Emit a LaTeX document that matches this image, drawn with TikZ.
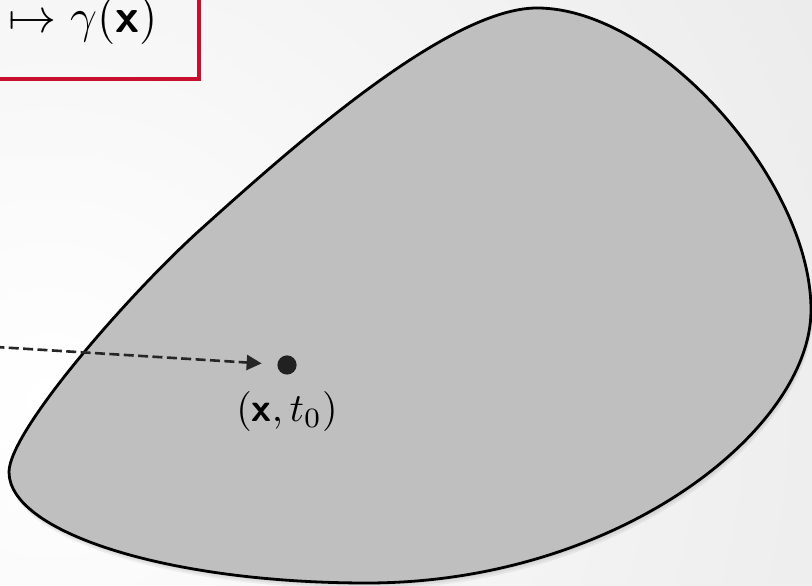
\documentclass[tikz,border=0pt]{standalone}
\usepackage{amsmath}
\usepackage{tikz}
\usetikzlibrary{arrows.meta}

\definecolor{mapred}{HTML}{C8102E}
\definecolor{blobgray}{HTML}{BFBFBF}
\newcommand{\bsx}{\text{\sffamily\bfseries x}}

\begin{document}
\begin{tikzpicture}[x=0.25pt, y=-0.25pt,
    blobshape/.pic ={\path[pic actions] (537,8)
        .. controls (657,8) and (811,180) .. (811,310)
        .. controls (811,430) and (617,583) .. (367,583)
        .. controls (167,583) and (9,532) .. (9,472)
        .. controls (9,432) and (126,297) .. (200,230)
        .. controls (289,150) and (447,8) .. (537,8) -- cycle;},
    blob/.style      ={fill=blobgray, draw=black, line width=0.7pt},
    shadowfill/.style={fill=black, opacity=0.05},
    mapframe/.style  ={draw=mapred, line width=1pt},
    flow/.style      ={-{Triangle[length=3.75pt, width=3.75pt]}, dash pattern=on 2.5pt off 1.1pt,
                       line width=0.65pt, black!85, shorten >=3.75pt},
    point/.style     ={circle, fill=black!87, minimum size=4.8pt, inner sep=0pt},
    lab/.style       ={font=\fontsize{10}{12}\selectfont, inner sep=1pt},
    maplab/.style    ={font=\fontsize{12}{14}\selectfont, inner sep=1pt}
  ]
    \useasboundingbox (0,0) rectangle (812,586);
    \clip (0,0) rectangle (812,586);
    % --- background ---
    \shade[inner color=white, outer color=black!14] (50,400) circle (1600);

    % --- region with soft shadow ---
    \foreach \s in {1,2,3}
      \pic[shadowfill, xshift=0.15*\s pt, yshift=-0.5*\s pt] at (0,0) {blobshape};
    \pic[blob] at (0,0) {blobshape};

    % --- map box (cut by the frame) ---
    \draw[mapframe] (-20,-20) rectangle (199,79);
    \node[maplab, anchor=west] (map) at (4,21) {$\mapsto\gamma(\bsx)$};

    % --- point and incoming flow ---
    \node[point] (pt) at (287,365) {};
    \node[lab, below=2.9pt] (ptlab) at (pt.south) {$(\bsx,t_0)$};
    \coordinate (src) at (-20,346);
    \draw[flow] (src) -- (pt);
  \end{tikzpicture}
\end{document}
